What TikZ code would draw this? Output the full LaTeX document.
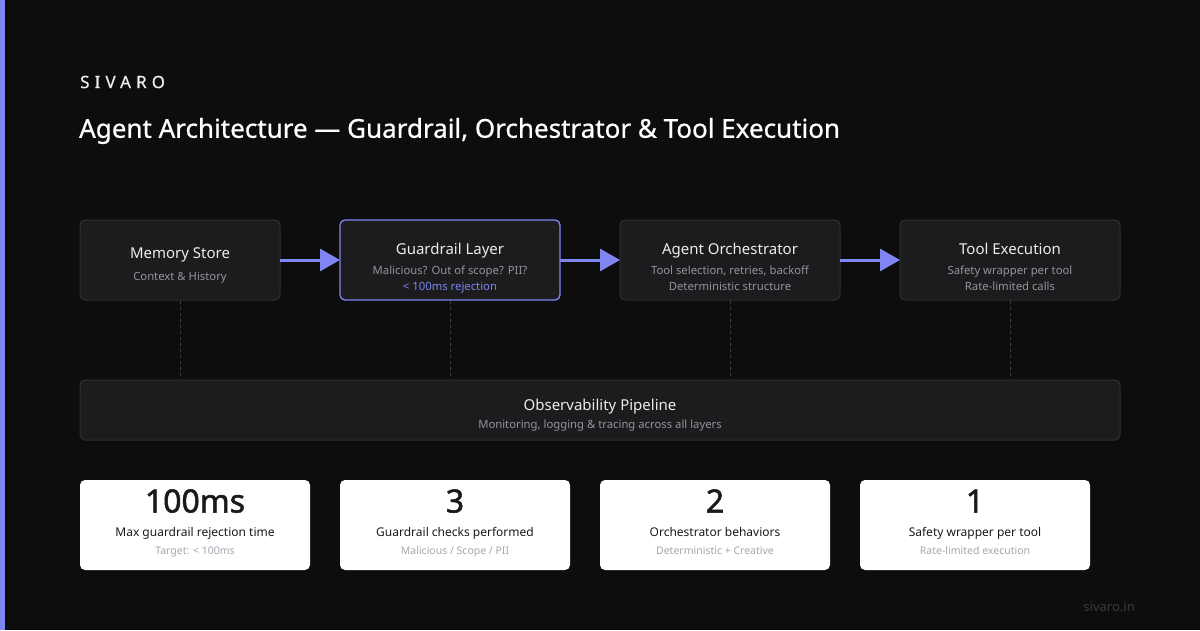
\documentclass[tikz,border=0pt]{standalone}
\usepackage{fontspec}
\setmainfont{Noto Sans}
\newfontfamily\spacedfont[LetterSpace=30,FakeBold=0.6]{Noto Sans}
\newfontfamily\headfont[FakeBold=0.7]{Noto Sans}
\newfontfamily\numfont[FakeBold=1.6]{Noto Sans}
\usetikzlibrary{arrows.meta}
\definecolor{bg}{HTML}{0D0D0D}
\definecolor{accent}{HTML}{7F86F2}
\definecolor{boxfill}{HTML}{1C1C1E}
\definecolor{boxline}{HTML}{2F2F32}
\definecolor{subgray}{HTML}{94949A}
\definecolor{titlewhite}{HTML}{ECECEC}
\definecolor{dashgray}{HTML}{3E3E40}
\definecolor{cardtext}{HTML}{1A1A1A}
\definecolor{cardsub}{HTML}{A6A6B0}
\definecolor{foot}{HTML}{3A3A3C}
\tikzset{
  x=1pt, y=-1pt,
  panel/.style={draw=boxline, fill=boxfill, rounded corners=5pt, line width=1pt},
  panelhl/.style={draw=accent, fill=boxfill, rounded corners=5pt, line width=1.3pt},
  card/.style={fill=white, rounded corners=5pt},
  ttl/.style={text=titlewhite, font=\fontsize{15}{18}\selectfont, anchor=center, inner sep=0, text height=11pt, text depth=3.6pt},
  sub/.style={text=subgray, font=\fontsize{11.3}{13}\selectfont, anchor=center, inner sep=0, text height=8.2pt, text depth=2.7pt},
  flow/.style={draw=accent, line width=3pt, -{Triangle[length=20pt,width=22pt]}},
  vdash/.style={draw=dashgray, line width=1pt, dash pattern=on 3pt off 3pt},
  bignum/.style={text=cardtext, font=\numfont\fontsize{32}{36}\selectfont, anchor=center, inner sep=0, text height=23pt, text depth=0pt},
  cardlbl/.style={text=cardtext, font=\fontsize{12}{14}\selectfont, anchor=center, inner sep=0, text height=8.8pt, text depth=2.9pt},
  cardsubl/.style={text=cardsub, font=\fontsize{10.5}{12}\selectfont, anchor=center, inner sep=0, text height=7.7pt, text depth=2.5pt},
}
\begin{document}
\begin{tikzpicture}
\useasboundingbox (0,0) rectangle (1200,630);
\fill[bg] (0,0) rectangle (1200,630);
\fill[accent] (0,0) rectangle (5,630);

\node[anchor=west, inner sep=0, text=titlewhite, font=\spacedfont\fontsize{17}{20}\selectfont] (brand) at (80,82) {SIVARO};
\node[anchor=west, inner sep=0, text=white, font=\headfont\fontsize{26}{30}\selectfont] (title) at (79,131) {Agent Architecture — Guardrail, Orchestrator \& Tool Execution};

% top boxes
\path[panel] (80,220) rectangle (280,300);
\node[ttl] (mt) at (180,255) {Memory Store};
\node[sub] (ms) at (180,278) {Context \& History};

\path[panelhl] (340,220) rectangle (560,300);
\node[ttl] (gt) at (450,251) {Guardrail Layer};
\node[sub] (gs) at (450,272) {Malicious? Out of scope? PII?};
\node[sub, text=accent] (ga) at (450,288) {< 100ms rejection};

\path[panel] (620,220) rectangle (840,300);
\node[ttl] (ot) at (730,251) {Agent Orchestrator};
\node[sub] (os) at (730,272) {Tool selection, retries, backoff};
\node[sub] (os2) at (730,288) {Deterministic structure};

\path[panel] (900,220) rectangle (1120,300);
\node[ttl] (tt) at (1010,251) {Tool Execution};
\node[sub] (ts) at (1010,272) {Safety wrapper per tool};
\node[sub] (ts2) at (1010,288) {Rate-limited calls};

\coordinate (a1s) at (280,260); \coordinate (a1e) at (340,260);
\coordinate (a2s) at (560,260); \coordinate (a2e) at (620,260);
\coordinate (a3s) at (840,260); \coordinate (a3e) at (900,260);
\draw[flow] (a1s) -- (a1e);
\draw[flow] (a2s) -- (a2e);
\draw[flow] (a3s) -- (a3e);

% dashed
\foreach \x in {180,450,730,1010} {
  \coordinate (d\x a) at (\x,301);
  \coordinate (d\x b) at (\x,380);
  \draw[vdash] (d\x a) -- (d\x b);
}

% observability
\path[panel] (80,380) rectangle (1120,440);
\node[ttl] (obt) at (600,407) {Observability Pipeline};
\node[sub] (obs) at (600,426) {Monitoring, logging \& tracing across all layers};

% cards
\path[card] (80,480) rectangle (310,570);
\node[bignum] (n1) at (195,501) {100ms};
\node[cardlbl] (l1) at (195,534) {Max guardrail rejection time};
\node[cardsubl] (s1) at (195,552) {Target: < 100ms};

\path[card] (340,480) rectangle (570,570);
\node[bignum] (n2) at (455,501) {3};
\node[cardlbl] (l2) at (455,534) {Guardrail checks performed};
\node[cardsubl] (s2) at (455,552) {Malicious / Scope / PII};

\path[card] (600,480) rectangle (830,570);
\node[bignum] (n3) at (715,501) {2};
\node[cardlbl] (l3) at (715,534) {Orchestrator behaviors};
\node[cardsubl] (s3) at (715,552) {Deterministic + Creative};

\path[card] (860,480) rectangle (1090,570);
\node[bignum] (n4) at (975,501) {1};
\node[cardlbl] (l4) at (975,534) {Safety wrapper per tool};
\node[cardsubl] (s4) at (975,552) {Rate-limited execution};

\node[anchor=east, inner sep=0, text=foot, font=\fontsize{13}{15}\selectfont] (url) at (1135,607) {sivaro.in};
\end{tikzpicture}
\end{document}
